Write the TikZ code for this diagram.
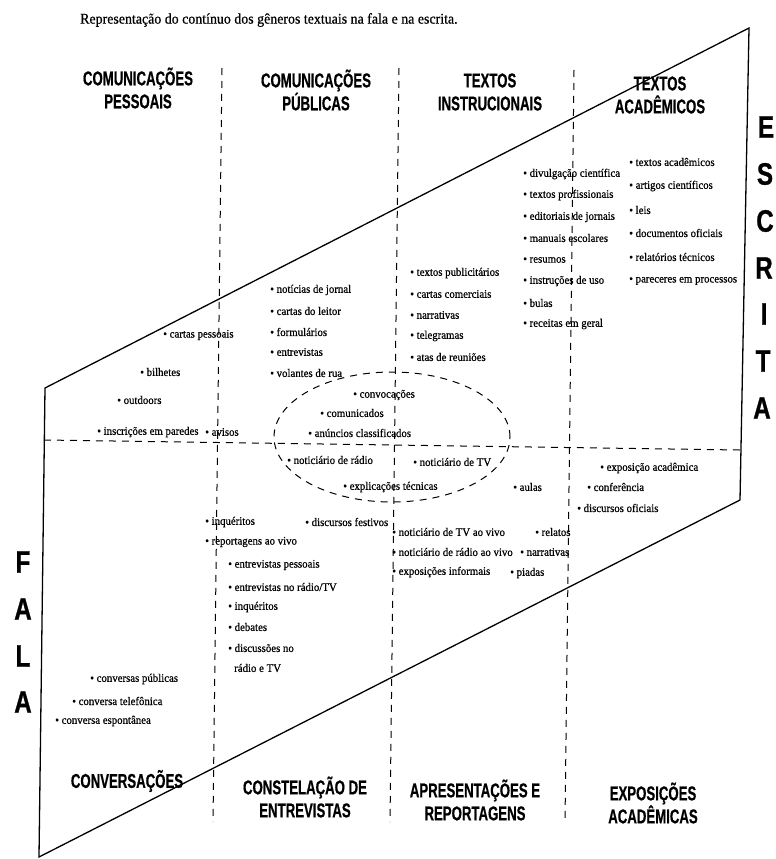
\documentclass[tikz,border=0pt]{standalone}
\usepackage{fontspec}
\setmainfont{Liberation Serif}
\newfontfamily\itemfont[FakeStretch=0.94,FakeBold=0.6]{Liberation Serif}
\newfontfamily\headfont[FakeStretch=0.66,FakeBold=0.6]{Liberation Sans}
\newfontfamily\sidefont[FakeStretch=0.78,FakeBold=0.8]{Liberation Sans}

\begin{document}
\begin{tikzpicture}[x=1pt,y=-1pt,
  item/.style={anchor=west,inner sep=0pt,font=\itemfont\fontsize{11.5}{13}\selectfont},
  head/.style={align=center,inner sep=0pt,font=\headfont\bfseries\fontsize{20}{23}\selectfont},
  letter/.style={inner sep=0pt,font=\sidefont\bfseries\fontsize{31}{31}\selectfont},
  edge/.style={line width=1.3pt},
  divline/.style={line width=1pt,dash pattern=on 7pt off 6pt}]
  \useasboundingbox (0,0) rectangle (776,859);
  \node[anchor=west,inner sep=0pt,font=\itemfont\fontsize{14.8}{16}\selectfont] (title) at (80,20)
    {Representação do contínuo dos gêneros textuais na fala e na escrita.};

  % the band between fala and escrita
  \coordinate (tl) at (45,388);
  \coordinate (tr) at (749,28);
  \coordinate (br) at (740,500);
  \coordinate (bl) at (39,857);
  \draw[edge] (tl) -- (tr) -- (br) -- (bl) -- cycle;

  % dashed grid
  \coordinate (d1t) at (222,68);
  \coordinate (d1b) at (213,822);
  \coordinate (d2t) at (399,68);
  \coordinate (d2b) at (390,822);
  \coordinate (d3t) at (574,70);
  \coordinate (d3b) at (565,822);
  \coordinate (hl) at (44,440);
  \coordinate (hr) at (740,450);
  \draw[divline] (d1t) -- (d1b);
  \draw[divline] (d2t) -- (d2b);
  \draw[divline] (d3t) -- (d3b);
  \draw[divline] (hl) -- (hr);
  \draw[divline] (392,437) ellipse [x radius=118pt,y radius=65pt];

  % column heads
  \node[head] (hPes) at (138,88) {COMUNICAÇÕES\\PESSOAIS};
  \node[head] (hPub) at (316,90) {COMUNICAÇÕES\\PÚBLICAS};
  \node[head] (hIns) at (490,92) {TEXTOS\\INSTRUCIONAIS};
  \node[head] (hAca) at (660,95) {TEXTOS\\ACADÊMICOS};
  \node[head] (hCon) at (127,781) {CONVERSAÇÕES};
  \node[head] (hEnt) at (305,797) {CONSTELAÇÃO DE\\ENTREVISTAS};
  \node[head] (hApr) at (475,800) {APRESENTAÇÕES E\\REPORTAGENS};
  \node[head] (hExp) at (653,803) {EXPOSIÇÕES\\ACADÊMICAS};

  % escrita / fala
  \node[letter] (esc1) at (766,127) {E};
  \node[letter] (esc2) at (765,174) {S};
  \node[letter] (esc3) at (765,221) {C};
  \node[letter] (esc4) at (764,268) {R};
  \node[letter] (esc5) at (764,314) {I};
  \node[letter] (esc6) at (763,361) {T};
  \node[letter] (esc7) at (762,408) {A};
  \node[letter] (fal1) at (23,562) {F};
  \node[letter] (fal2) at (23,609) {A};
  \node[letter] (fal3) at (23,656) {L};
  \node[letter] (fal4) at (23,702) {A};

  % comunicacoes pessoais
  \node[item] (pes1) at (163,335) {• cartas pessoais};
  \node[item] (pes2) at (140,372) {• bilhetes};
  \node[item] (pes3) at (117,400) {• outdoors};
  \node[item] (pes4) at (97,432) {• inscrições em paredes};
  \node[item] (pes5) at (205,432) {• avisos};

  % comunicacoes publicas
  \node[item] (pub1) at (270,290) {• notícias de jornal};
  \node[item] (pub2) at (270,311) {• cartas do leitor};
  \node[item] (pub3) at (270,332) {• formulários};
  \node[item] (pub4) at (270,352) {• entrevistas};
  \node[item] (pub5) at (270,373) {• volantes de rua};

  % textos instrucionais
  \node[item] (ins1) at (410,273) {• textos publicitários};
  \node[item] (ins2) at (410,294) {• cartas comerciais};
  \node[item] (ins3) at (410,315) {• narrativas};
  \node[item] (ins4) at (410,336) {• telegramas};
  \node[item] (ins5) at (410,357) {• atas de reuniões};
  \node[item] (ins6) at (523,174) {• divulgação científica};
  \node[item] (ins7) at (523,195) {• textos profissionais};
  \node[item] (ins8) at (523,217) {• editoriais de jornais};
  \node[item] (ins9) at (523,238) {• manuais escolares};
  \node[item] (ins10) at (523,260) {• resumos};
  \node[item] (ins11) at (523,281) {• instruções de uso};
  \node[item] (ins12) at (523,303) {• bulas};
  \node[item] (ins13) at (523,324) {• receitas em geral};

  % textos academicos
  \node[item] (aca1) at (629,162) {• textos acadêmicos};
  \node[item] (aca2) at (629,186) {• artigos científicos};
  \node[item] (aca3) at (629,210) {• leis};
  \node[item] (aca4) at (629,233) {• documentos oficiais};
  \node[item] (aca5) at (629,257) {• relatórios técnicos};
  \node[item] (aca6) at (629,281) {• pareceres em processos};

  % inside the oval
  \node[item] (ov1) at (353,395) {• convocações};
  \node[item] (ov2) at (320,413) {• comunicados};
  \node[item] (ov3) at (308,433) {• anúncios classificados};
  \node[item] (ov4) at (287,460) {• noticiário de rádio};
  \node[item] (ov5) at (413,462) {• noticiário de TV};
  \node[item] (ov6) at (343,487) {• explicações técnicas};
  \node[item] (ov7) at (513,487) {• aulas};

  % entrevistas
  \node[item] (ent1) at (205,522) {• inquéritos};
  \node[item] (ent2) at (305,522) {• discursos festivos};
  \node[item] (ent3) at (205,542) {• reportagens ao vivo};
  \node[item] (ent4) at (228,565) {• entrevistas pessoais};
  \node[item] (ent5) at (228,587) {• entrevistas no rádio/TV};
  \node[item] (ent6) at (228,607) {• inquéritos};
  \node[item] (ent7) at (228,627) {• debates};
  \node[item] (ent8) at (228,648) {• discussões no};
  \node[item] (ent9) at (234,668) {rádio e TV};

  % apresentacoes
  \node[item] (apr1) at (392,532) {• noticiário de TV ao vivo};
  \node[item] (apr2) at (392,552) {• noticiário de rádio ao vivo};
  \node[item] (apr3) at (392,572) {• exposições informais};
  \node[item] (apr4) at (535,532) {• relatos};
  \node[item] (apr5) at (520,552) {• narrativas};
  \node[item] (apr6) at (510,573) {• piadas};

  % exposicoes
  \node[item] (exp1) at (600,468) {• exposição acadêmica};
  \node[item] (exp2) at (587,487) {• conferência};
  \node[item] (exp3) at (577,508) {• discursos oficiais};

  % conversacoes
  \node[item] (con1) at (90,679) {• conversas públicas};
  \node[item] (con2) at (72,701) {• conversa telefônica};
  \node[item] (con3) at (55,721) {• conversa espontânea};
\end{tikzpicture}
\end{document}
